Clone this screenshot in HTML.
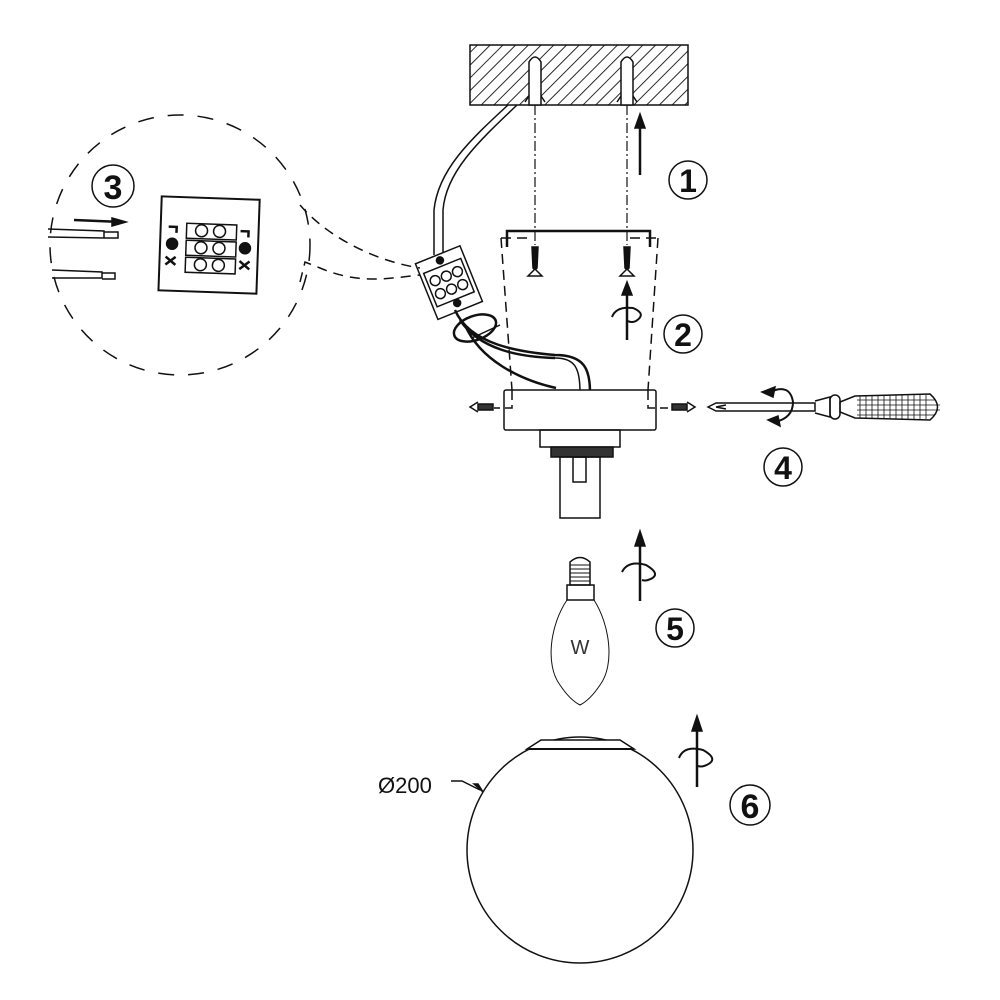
<!DOCTYPE html>
<html><head><meta charset="utf-8"><style>
html,body{margin:0;padding:0;background:#fff}
svg{display:block}
text{font-family:"Liberation Sans",sans-serif}
</style></head><body>
<svg width="1000" height="1000" viewBox="0 0 1000 1000" xmlns="http://www.w3.org/2000/svg" fill="none" stroke="#111" stroke-width="1.5">
<defs>
<pattern id="h" width="9" height="9" patternUnits="userSpaceOnUse" patternTransform="rotate(45)">
<line x1="0" y1="0" x2="0" y2="9" stroke="#111" stroke-width="1.8"/>
</pattern>
</defs>

<!-- ceiling -->
<rect x="470" y="45" width="218" height="60" fill="url(#h)" stroke="#111"/>
<g fill="#fff">
<path d="M529,105 V62 Q535,52 541,62 V105 Z"/>
<path d="M621,105 V62 Q627,52 633,62 V105 Z"/>
</g>
<path d="M529,96 l-4,6 M541,96 l4,6 M621,96 l-4,6 M633,96 l4,6"/>
<path d="M535,105 V245 M627,105 V245" stroke-dasharray="10,3,2,3" stroke-width="1.2"/>
<!-- arrow 1 -->
<line x1="640" y1="175" x2="640" y2="125" stroke-width="2.5"/>
<path d="M635,128 L640,114 L645,128 Z" fill="#111"/>
<circle cx="688" cy="180" r="19"/>
<text x="688" y="192" font-size="32" font-weight="bold" text-anchor="middle" fill="#111" stroke="none">1</text>

<!-- cable -->
<path d="M508,105 C470,140 438,170 434,210 L434,255"/>
<path d="M517,105 C478,142 446,172 443,210 L443,252"/>

<!-- bracket -->
<path d="M507,247 V231 H650 V247" stroke-width="2.5"/>
<path d="M501,238 L512,390 M658,238 L648,390 M501,238 H528 M630,238 H658" stroke-dasharray="10,6"/>
<g fill="#111">
<path d="M532,247 L538,247 L537,268 L535,270 L533,268 Z"/>
<path d="M624,247 L630,247 L629,268 L627,270 L625,268 Z"/>
</g>
<path d="M528,276 L542,276 L535,269 Z M620,276 L634,276 L627,269 Z" fill="#fff"/>
<!-- arrow 2 -->
<line x1="627" y1="340" x2="627" y2="292" stroke-width="2.5"/>
<path d="M622,295 L627,282 L632,295 Z" fill="#111"/>
<path d="M612,317 Q616,306 633,308 Q647,314 636,321 Q631,323 628,321" stroke-width="2"/>
<circle cx="683" cy="334" r="19"/>
<text x="683" y="346" font-size="32" font-weight="bold" text-anchor="middle" fill="#111" stroke="none">2</text>

<!-- connector -->
<g transform="rotate(-22 448 283)">
<rect x="425" y="253" width="48" height="60" fill="#fff"/>
<rect x="429" y="265" width="40" height="36"/>
<circle cx="437" cy="276" r="5"/><circle cx="449" cy="276" r="5"/><circle cx="461" cy="276" r="5"/>
<circle cx="437" cy="290" r="5"/><circle cx="449" cy="290" r="5"/><circle cx="461" cy="290" r="5"/>
<circle cx="449" cy="259" r="3.5" fill="#111"/><circle cx="449" cy="305" r="3.5" fill="#111"/>
</g>
<path d="M455,310 C470,345 520,352 555,355 C585,355 590,370 590,392" stroke-width="2.5"/>
<path d="M580,392 C580,368 575,358 555,358"/>
<path d="M460,320 C480,350 520,357 555,358" stroke-width="2.5"/>
<path d="M465,325 C480,360 520,380 556,388" stroke-width="2.5"/>
<ellipse cx="475" cy="328" rx="22" ry="12" transform="rotate(-20 475 328)" stroke-width="2.5"/>
<line x1="472" y1="338" x2="500" y2="325"/>

<path d="M300,205 C330,240 380,262 420,268" stroke-dasharray="10,7"/>
<path d="M300,282 L305,262 L320,268 C360,285 390,278 420,275" stroke-dasharray="10,7"/>
<circle cx="180" cy="245" r="130" stroke-dasharray="16,14"/>
<circle cx="113" cy="186" r="21"/>
<text x="113" y="199" font-size="34" font-weight="bold" text-anchor="middle" fill="#111" stroke="none">3</text>
<line x1="74" y1="220" x2="122" y2="222" stroke-width="2.5"/>
<path d="M112,218 L126,222 L112,226 Z" fill="#111"/>
<path d="M48,229 L104,231 L104,238 L48,237 M104,232 H118 V238 H104"/>
<path d="M52,270 L102,272 L102,278 L52,278 M102,273 H115 V279 H102"/>
<g transform="rotate(2 208 247)">
<rect x="160" y="198" width="98" height="94" stroke-width="2"/>
<rect x="186" y="224" width="50" height="15"/>
<rect x="186" y="241" width="50" height="15"/>
<rect x="186" y="258" width="50" height="15"/>
<circle cx="201" cy="231" r="6"/><circle cx="219" cy="231" r="6"/>
<circle cx="201" cy="248" r="6"/><circle cx="219" cy="248" r="6"/>
<circle cx="201" cy="265" r="6"/><circle cx="219" cy="265" r="6"/>
<circle cx="172" cy="245" r="5.5" fill="#111"/><circle cx="245" cy="247" r="5.5" fill="#111"/>
<path d="M168,228 H176 V234 M240,230 H248 V236" stroke-width="2.5"/>
<path d="M166,258 L176,266 M166,266 L176,258 M240,260 L250,268 M240,268 L250,260" stroke-width="2.5"/>
</g>

<!-- base -->
<rect x="504" y="390" width="152" height="40" rx="2" fill="#fff"/>
<path d="M512,390 V408 H494 M648,390 V408 H668" stroke-dasharray="10,5"/>
<rect x="540" y="430" width="80" height="17"/>
<rect x="551" y="447" width="62" height="10" fill="#333"/>
<rect x="560" y="457" width="40" height="61"/>
<rect x="573" y="457" width="13" height="25"/>
<g fill="#333"><rect x="478" y="404" width="15" height="6"/><rect x="672" y="404" width="15" height="6"/></g>
<path d="M478,402 L470,407 L478,412 M687,402 L695,407 L687,412"/>
<!-- screwdriver -->
<path d="M708,407 L716,403 L815,403 L815,411 L716,411 Z"/>
<path d="M716,407 L726,405 M716,407 L726,409"/>
<path d="M815,401 L830,397 L830,417 L815,413"/>
<rect x="830" y="395" width="10" height="24" rx="5"/>
<path d="M840,402 L855,396 L930,394 Q945,407 930,420 L855,418 L840,412 Z"/>
<path d="M860,396V418 M866,396V418 M872,396V418 M878,396V418 M884,395V419 M890,395V419 M896,395V419 M902,395V419 M908,395V419 M914,395V419 M920,395V419 M926,395V419 M857,400H935 M857,405H940 M857,410H940 M857,415H935" stroke-width="0.8"/>
<path d="M770,392 Q790,383 793,402 Q793,418 775,422" stroke-width="2"/>
<path d="M762,392 L775,387 L773,397 Z M768,420 L778,416 L780,426 Z" fill="#111"/>
<circle cx="783" cy="467" r="19"/>
<text x="783" y="479" font-size="32" font-weight="bold" text-anchor="middle" fill="#111" stroke="none">4</text>

<!-- bulb -->
<path d="M570,585 V562 Q580,553 590,562 V585 Z" fill="#fff"/>
<path d="M570,565H590 M570,569H590 M570,573H590 M570,577H590 M570,581H590" stroke-width="1"/>
<path d="M567,585 H594 V600 H567 Z"/>
<path d="M567,600 C550,625 545,665 560,685 Q570,700 580,705 Q590,700 600,685 C615,665 610,625 594,600" stroke-width="1"/>
<text x="580" y="654" font-size="20" text-anchor="middle" fill="#333" stroke="none">W</text>
<line x1="640" y1="601" x2="640" y2="543" stroke-width="2.5"/>
<path d="M635,546 L640,531 L645,546 Z" fill="#111"/>
<path d="M622,572 Q628,560 646,565 Q663,575 648,580 Q645,581 642,580" stroke-width="2"/>
<circle cx="675" cy="628" r="19"/>
<text x="675" y="640" font-size="32" font-weight="bold" text-anchor="middle" fill="#111" stroke="none">5</text>

<!-- globe -->
<circle cx="580" cy="850" r="113"/>
<path d="M527,749 L541,740 H620 L634,749 Z" fill="#fff"/>
<line x1="527" y1="749" x2="634" y2="749" stroke-width="2"/>
<text x="378" y="793" font-size="22" fill="#111" stroke="none">Ø200</text>
<path d="M451,781 H462 L480,790"/>
<path d="M474,784 L483,792 L478,784 Z" fill="#111"/>
<line x1="697" y1="787" x2="697" y2="728" stroke-width="2.5"/>
<path d="M692,731 L697,716 L702,731 Z" fill="#111"/>
<path d="M679,758 Q684,745 703,750 Q721,760 704,766 Q701,767 698,766" stroke-width="2"/>
<circle cx="750" cy="805" r="20"/>
<text x="750" y="818" font-size="34" font-weight="bold" text-anchor="middle" fill="#111" stroke="none">6</text>
</svg>
</body></html>
